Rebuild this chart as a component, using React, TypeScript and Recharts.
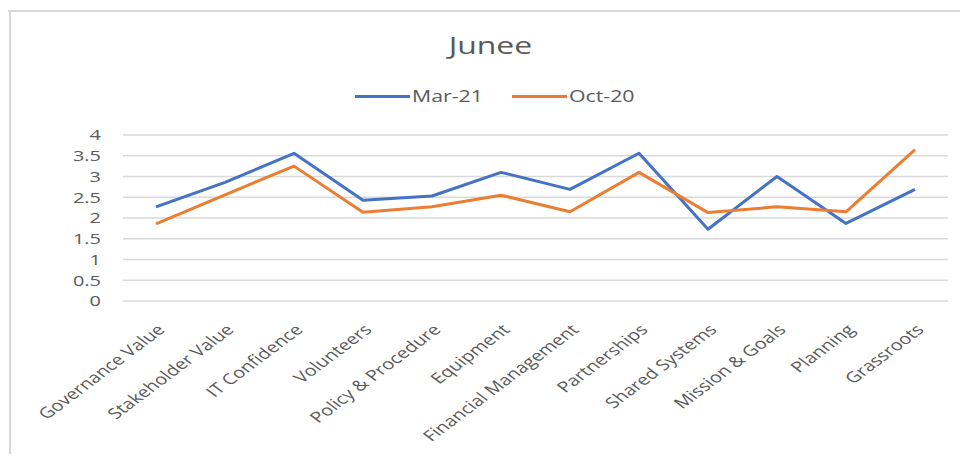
import React from "react";
import { LineChart, Line, XAxis, YAxis, CartesianGrid } from "recharts";

const categories = [
  "Governance Value",
  "Stakeholder Value",
  "IT Confidence",
  "Volunteers",
  "Policy & Procedure",
  "Equipment",
  "Financial Management",
  "Partnerships",
  "Shared Systems",
  "Mission & Goals",
  "Planning",
  "Grassroots",
];
const mar21 = [2.27, 2.86, 3.56, 2.43, 2.53, 3.1, 2.69, 3.56, 1.73, 3.0, 1.87, 2.69];
const oct20 = [1.86, 2.56, 3.25, 2.14, 2.27, 2.55, 2.15, 3.1, 2.13, 2.27, 2.15, 3.65];
const yTicks = [0, 0.5, 1, 1.5, 2, 2.5, 3, 3.5, 4];

const data = categories.map((c, i) => ({ name: c, mar21: mar21[i], oct20: oct20[i] }));

const FONT = "'Open Sans', sans-serif";
const GRAY = "#595959";
const SX = 1.33;

const XTick = (props: any) => {
  const { x, y, payload } = props;
  return (
    <g transform={`translate(${x + 5},${y + 18}) scale(${SX},1) rotate(-45)`}>
      <text x={0} y={0} dy="0.35em" textAnchor="end" fill={GRAY} fontSize={15} fontFamily={FONT}>
        {payload.value}
      </text>
    </g>
  );
};

const YTick = (props: any) => {
  const { x, y, payload } = props;
  return (
    <g transform={`translate(${x},${y}) scale(${SX},1)`}>
      <text x={0} y={0} dy="0.35em" textAnchor="end" fill={GRAY} fontSize={15} fontFamily={FONT}>
        {payload.value}
      </text>
    </g>
  );
};

export default function App() {
  return (
    <div
      style={{
        position: "relative",
        width: 968,
        height: 462,
        margin: -8,
        overflow: "hidden",
        background: "#fff",
        fontFamily: FONT,
      }}
    >
      <div style={{ position: "absolute", left: 6, top: 10, width: 962, height: 2, background: "#d9d9d9" }} />
      <div style={{ position: "absolute", left: 9, top: 10, width: 2, height: 452, background: "#d6d6d6" }} />
      <div
        style={{
          position: "absolute",
          left: 0,
          width: 968,
          top: 29,
          textAlign: "center",
          paddingLeft: 12,
          boxSizing: "border-box",
          fontSize: 24,
          color: GRAY,
          lineHeight: "32px",
        }}
      >
        <span style={{ display: "inline-block", transform: `scaleX(${SX})` }}>Junee</span>
      </div>
      <div style={{ position: "absolute", left: 355, top: 95, width: 55, height: 3, background: "#4472C4" }} />
      <div
        style={{
          position: "absolute",
          left: 412,
          top: 84,
          fontSize: 16,
          color: GRAY,
          lineHeight: "24px",
          transform: `scaleX(${SX})`,
          transformOrigin: "left center",
        }}
      >
        Mar-21
      </div>
      <div style={{ position: "absolute", left: 512, top: 95, width: 55, height: 3, background: "#ED7D31" }} />
      <div
        style={{
          position: "absolute",
          left: 569,
          top: 84,
          fontSize: 16,
          color: GRAY,
          lineHeight: "24px",
          transform: `scaleX(${SX})`,
          transformOrigin: "left center",
        }}
      >
        Oct-20
      </div>
      <div style={{ position: "absolute", left: 0, top: 0 }}>
        <LineChart width={968} height={462} data={data} margin={{ top: 135, right: 20, bottom: 11, left: 0 }}>
          <CartesianGrid vertical={false} stroke="#d9d9d9" strokeWidth={1.5} />
          <XAxis
            dataKey="name"
            interval={0}
            height={150}
            padding={{ left: 33, right: 33 }}
            axisLine={false}
            tickLine={false}
            tick={<XTick />}
          />
          <YAxis
            width={123}
            domain={[0, 4]}
            ticks={yTicks}
            interval={0}
            axisLine={false}
            tickLine={false}
            tickSize={0}
            tickMargin={22}
            tick={<YTick />}
          />
          <Line
            dataKey="mar21"
            stroke="#4472C4"
            strokeWidth={3}
            dot={false}
            isAnimationActive={false}
            strokeLinejoin="round"
          />
          <Line
            dataKey="oct20"
            stroke="#ED7D31"
            strokeWidth={3}
            dot={false}
            isAnimationActive={false}
            strokeLinejoin="round"
          />
        </LineChart>
      </div>
    </div>
  );
}
